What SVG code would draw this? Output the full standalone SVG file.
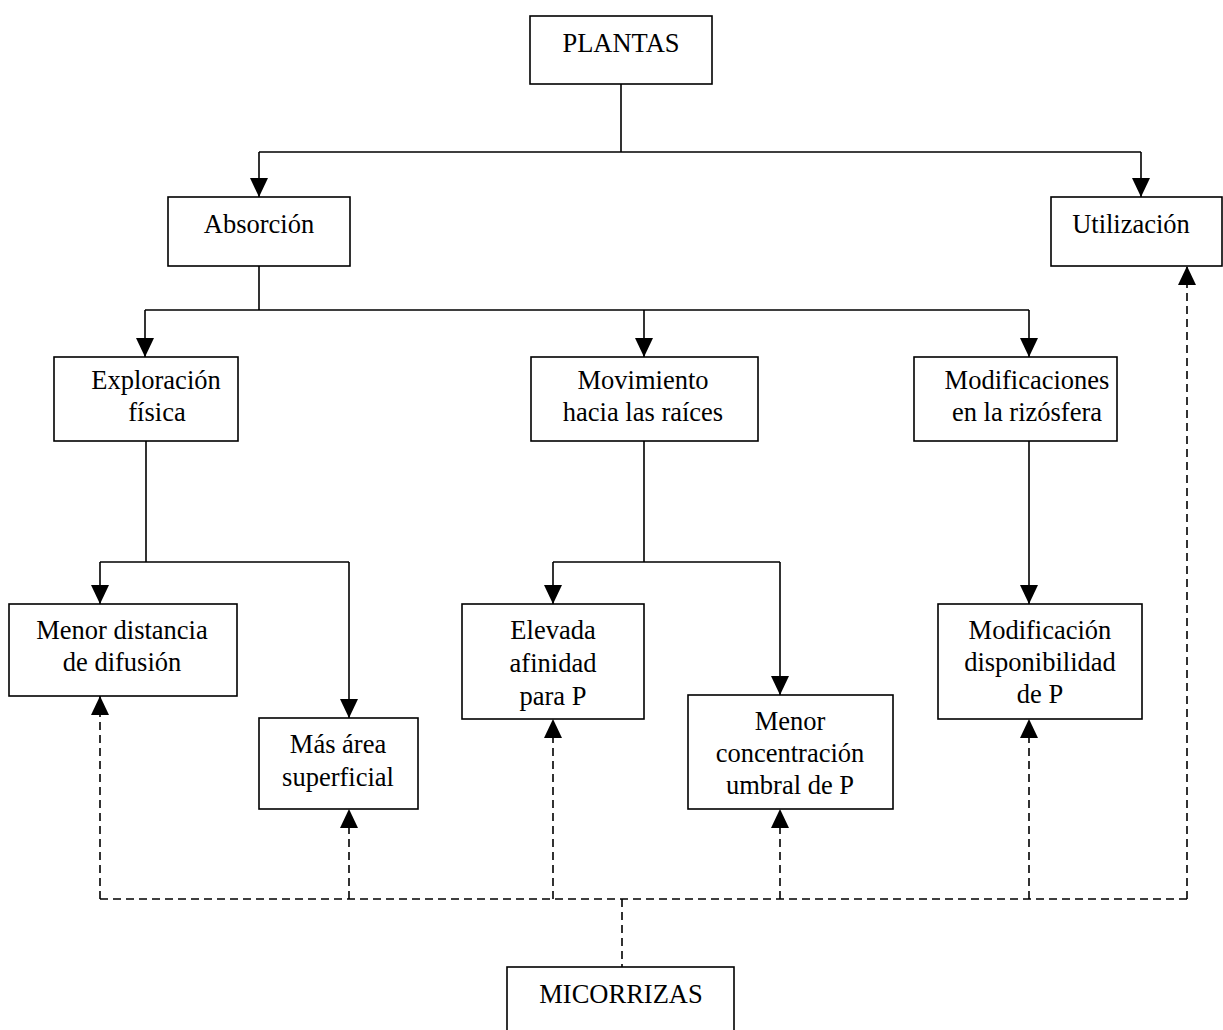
<svg xmlns="http://www.w3.org/2000/svg" width="1223" height="1030" viewBox="0 0 1223 1030">
<style>
.box{fill:#fff;stroke:#000;stroke-width:1.6}
.t{font-family:"Liberation Serif","Times New Roman",serif;font-size:26.5px;fill:#000;text-anchor:middle}
.c{fill:none;stroke:#000;stroke-width:1.6}
.d{fill:none;stroke:#000;stroke-width:1.6;stroke-dasharray:8 5}
</style>
<defs>
<marker id="ah" viewBox="0 0 19 18" refX="19" refY="9" markerWidth="19" markerHeight="18" markerUnits="userSpaceOnUse" orient="auto">
<path d="M0,0 L19,9 L0,18 z" fill="#000"/>
</marker>
</defs>
<rect width="1223" height="1030" fill="#fff"/>
<g id="connectors">
<path class="c" d="M621,84 V152 M259,152 H1141"/>
<path class="c" d="M259,152 V197" marker-end="url(#ah)"/>
<path class="c" d="M1141,152 V197" marker-end="url(#ah)"/>
<path class="c" d="M259,266 V310 M145,310 H1029"/>
<path class="c" d="M145,310 V357" marker-end="url(#ah)"/>
<path class="c" d="M644,310 V357" marker-end="url(#ah)"/>
<path class="c" d="M1029,310 V357" marker-end="url(#ah)"/>
<path class="c" d="M146,441 V562 M100,562 H349"/>
<path class="c" d="M100,562 V604" marker-end="url(#ah)"/>
<path class="c" d="M349,562 V718" marker-end="url(#ah)"/>
<path class="c" d="M644,441 V562 M553,562 H780"/>
<path class="c" d="M553,562 V604" marker-end="url(#ah)"/>
<path class="c" d="M780,562 V695" marker-end="url(#ah)"/>
<path class="c" d="M1029,441 V604" marker-end="url(#ah)"/>
<path class="d" d="M100,899 H1187 M622,899 V967"/>
<path class="d" d="M100,899 V696" marker-end="url(#ah)"/>
<path class="d" d="M349,899 V809" marker-end="url(#ah)"/>
<path class="d" d="M553,899 V719" marker-end="url(#ah)"/>
<path class="d" d="M780,899 V809" marker-end="url(#ah)"/>
<path class="d" d="M1029,899 V719" marker-end="url(#ah)"/>
<path class="d" d="M1187,899 V266" marker-end="url(#ah)"/>
</g>
<g id="plantas"><rect class="box" x="530" y="16" width="182" height="68"/><text class="t" x="621" y="52">PLANTAS</text></g>
<g id="absorcion"><rect class="box" x="168" y="197" width="182" height="69"/><text class="t" x="259" y="233">Absorción</text></g>
<g id="utilizacion"><rect class="box" x="1051" y="197" width="171" height="69"/><text class="t" x="1131" y="233">Utilización</text></g>
<g id="exploracion"><rect class="box" x="54" y="357" width="184" height="84"/><text class="t" x="156" y="389">Exploración</text><text class="t" x="157" y="421">física</text></g>
<g id="movimiento"><rect class="box" x="531" y="357" width="227" height="84"/><text class="t" x="643" y="389">Movimiento</text><text class="t" x="643" y="421">hacia las raíces</text></g>
<g id="modificaciones"><rect class="box" x="914" y="357" width="203" height="84"/><text class="t" x="1027" y="389">Modificaciones</text><text class="t" x="1027" y="421">en la rizósfera</text></g>
<g id="menor-distancia"><rect class="box" x="9" y="604" width="228" height="92"/><text class="t" x="122" y="639">Menor distancia</text><text class="t" x="122" y="671">de difusión</text></g>
<g id="mas-area"><rect class="box" x="259" y="718" width="159" height="91"/><text class="t" x="338" y="753">Más área</text><text class="t" x="338" y="786">superficial</text></g>
<g id="elevada"><rect class="box" x="462" y="604" width="182" height="115"/><text class="t" x="553" y="639">Elevada</text><text class="t" x="553" y="672">afinidad</text><text class="t" x="553" y="705">para P</text></g>
<g id="menor-concentracion"><rect class="box" x="688" y="695" width="205" height="114"/><text class="t" x="790" y="730">Menor</text><text class="t" x="790" y="762">concentración</text><text class="t" x="790" y="794">umbral de P</text></g>
<g id="modificacion"><rect class="box" x="938" y="604" width="204" height="115"/><text class="t" x="1040" y="639">Modificación</text><text class="t" x="1040" y="671">disponibilidad</text><text class="t" x="1040" y="703">de P</text></g>
<g id="micorrizas"><rect class="box" x="507" y="967" width="227" height="70"/><text class="t" x="621" y="1003">MICORRIZAS</text></g>
</svg>
